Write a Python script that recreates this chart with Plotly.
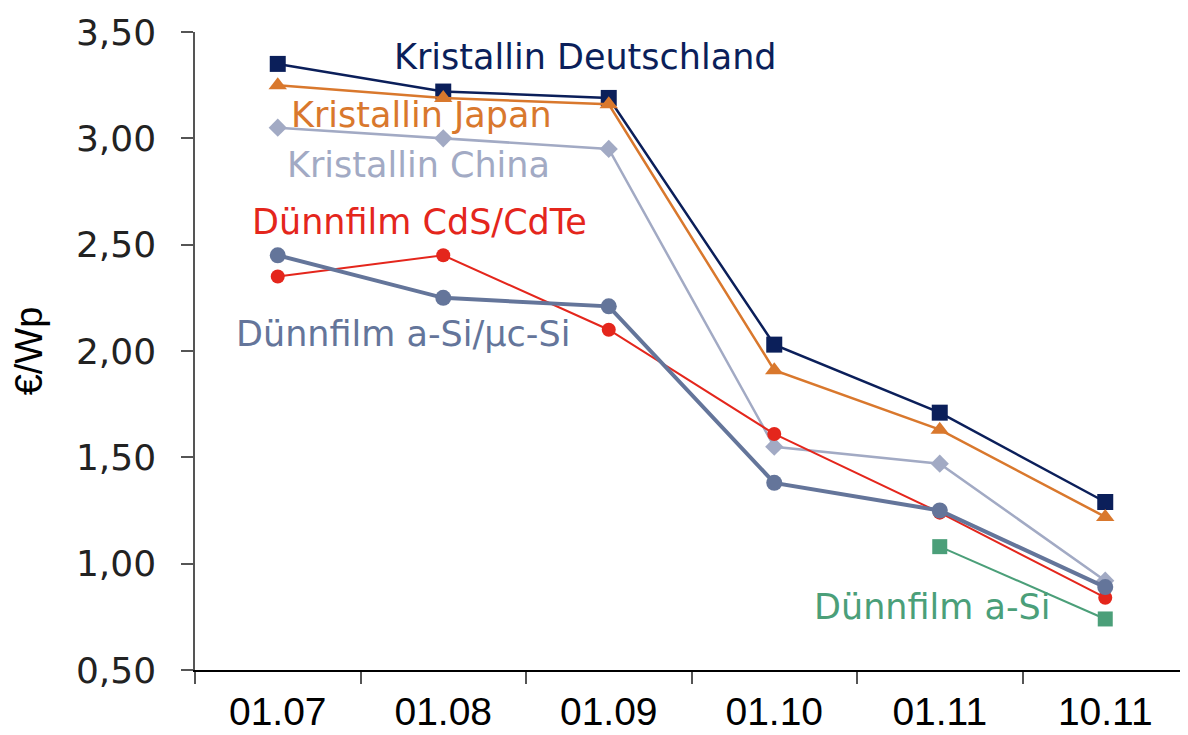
import plotly.graph_objects as go

categories = ["01.07", "01.08", "01.09", "01.10", "01.11", "10.11"]
kristallin_de = [3.35, 3.22, 3.19, 2.03, 1.71, 1.29]
kristallin_jp = [3.25, 3.19, 3.16, 1.91, 1.63, 1.22]
kristallin_cn = [3.05, 3.00, 2.95, 1.55, 1.47, 0.92]
duenn_cdte = [2.35, 2.45, 2.10, 1.61, 1.24, 0.84]
duenn_asi_muc = [2.45, 2.25, 2.21, 1.38, 1.25, 0.89]
duenn_asi = [None, None, None, None, 1.08, 0.74]
y_ticks = [0.5, 1.0, 1.5, 2.0, 2.5, 3.0, 3.5]
y_tick_labels = ["0,50", "1,00", "1,50", "2,00", "2,50", "3,00", "3,50"]

C_DE = "#0b1f5a"
C_JP = "#d9782d"
C_CN = "#a2aac4"
C_CDTE = "#e4261c"
C_MUC = "#64759a"
C_ASI = "#4b9f79"

fig = go.Figure()

def add(y, color, symbol, size, width, name):
    fig.add_trace(go.Scatter(
        x=categories, y=y, mode="lines+markers", name=name,
        line=dict(color=color, width=width),
        marker=dict(symbol=symbol, size=size, color=color),
        connectgaps=False, showlegend=False,
    ))

add(duenn_asi, C_ASI, "square", 15, 2, "Dünnfilm a-Si")
add(kristallin_cn, C_CN, "diamond", 14, 2.5, "Kristallin China")
add(duenn_cdte, C_CDTE, "circle", 14, 2, "Dünnfilm CdS/CdTe")
add(duenn_asi_muc, C_MUC, "circle", 16, 4, "Dünnfilm a-Si/µc-Si")
add(kristallin_de, C_DE, "square", 16, 2.5, "Kristallin Deutschland")
add(kristallin_jp, C_JP, "triangle-up", 16, 2.5, "Kristallin Japan")

# label placement (page pixels of left edge / vertical centre)
labels = [
    ("Kristallin Deutschland", 392, 57, C_DE),
    ("Kristallin Japan", 289, 115, C_JP),
    ("Kristallin China", 285, 165, C_CN),
    ("Dünnfilm CdS/CdTe", 250, 222, C_CDTE),
    ("Dünnfilm a-Si/µc-Si", 234, 334, C_MUC),
    ("Dünnfilm a-Si", 812, 607, C_ASI),
]
for text, px, py, color in labels:
    fig.add_annotation(
        x=(px - 277.75) / 165.5, y=0.5 + (670 - py) / 212.67,
        xref="x", yref="y", text=text, showarrow=False,
        xanchor="left", yanchor="middle",
        font=dict(family="DejaVu Sans", size=35, color=color),
    )

fig.update_layout(
    width=1180, height=727,
    margin=dict(l=187, r=0, t=24, b=65, autoexpand=False),
    paper_bgcolor="white", plot_bgcolor="white",
    xaxis=dict(
        type="category", range=[-0.5, 5.5], automargin=False,
        tickson="boundaries", ticks="outside", ticklen=12, tickwidth=1.5,
        tickcolor="#555555",
        showline=True, linecolor="black", linewidth=2,
        showgrid=False, zeroline=False,
        tickfont=dict(family="Liberation Sans", size=39, color="black"),
        ticklabelstandoff=6,
    ),
    yaxis=dict(
        range=[0.5, 3.5], tickvals=y_ticks, ticktext=y_tick_labels, automargin=False,
        ticks="outside", ticklen=12, tickwidth=1.5, tickcolor="#555555",
        showline=True, linecolor="#555555", linewidth=1.5,
        showgrid=False, zeroline=False,
        tickfont=dict(family="DejaVu Sans", size=36, color="#222222"),
        ticklabelstandoff=18,
        title=dict(text="€/Wp", font=dict(family="Liberation Sans", size=38, color="black"), standoff=22),
    ),
)

fig.write_html("out.html")
